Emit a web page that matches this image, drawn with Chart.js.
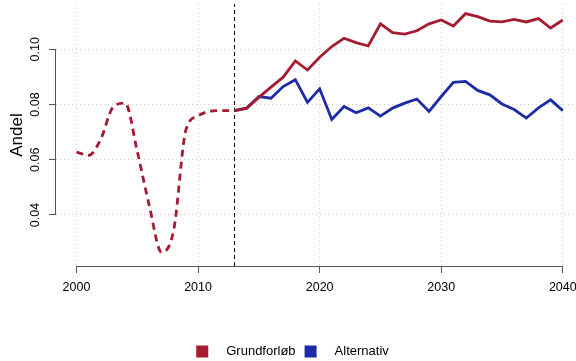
<!DOCTYPE html>
<html>
<head>
<meta charset="utf-8">
<script src="https://cdn.jsdelivr.net/npm/chart.js@4/dist/chart.umd.min.js"></script>
<style>
  html, body { margin: 0; padding: 0; background: #fff; }
  #wrap { width: 576px; height: 361px; position: relative; }
</style>
</head>
<body>
<div id="wrap"><canvas id="andelChart"></canvas></div>
<script>
// historic (dashed) part
var histYears = [2000, 2001, 2002, 2003, 2004, 2005, 2006, 2007, 2008, 2009, 2010, 2011, 2012, 2013];
var histValues = [0.0628, 0.0616, 0.0675, 0.0790, 0.0805, 0.0630, 0.0431, 0.0265, 0.0347, 0.0708, 0.0759, 0.0776, 0.0778, 0.0778];

// projections
var projYears = [2013, 2014, 2015, 2016, 2017, 2018, 2019, 2020, 2021, 2022, 2023, 2024, 2025, 2026,
  2027, 2028, 2029, 2030, 2031, 2032, 2033, 2034, 2035, 2036, 2037, 2038, 2039, 2040];
var baseValues = [0.0778, 0.0787, 0.0826, 0.0863, 0.0899, 0.0958, 0.0925, 0.0971, 0.1010, 0.1040, 0.1024, 0.1012, 0.1092, 0.1060,
  0.1055, 0.1067, 0.1092, 0.1106, 0.1084, 0.1129, 0.1118, 0.1102, 0.1099, 0.1108, 0.1099, 0.1111, 0.1077, 0.1106];
var altValues = [0.0778, 0.0787, 0.0829, 0.0823, 0.0865, 0.0890, 0.0808, 0.0857, 0.0746, 0.0793, 0.0770, 0.0788, 0.0758, 0.0787,
  0.0805, 0.0820, 0.0775, 0.0829, 0.0880, 0.0884, 0.0851, 0.0835, 0.0802, 0.0782, 0.0751, 0.0788, 0.0817, 0.0778];

var seriesNames = ['Grundforløb', 'Alternativ'];
var xTicks = [2000, 2010, 2020, 2030, 2040];
var yTicks = [0.04, 0.06, 0.08, 0.10];
var splitYear = 2013;

var RED = '#A51B2F';
var BLUE = '#1E2BA8';
var AXIS = '#555555';
var FONT = "'Liberation Sans', Arial, Helvetica, sans-serif";

var xMin = 1998.314, xMax = 2041.086;
var yMin = 0.02153, yMax = 0.1164;

function pts(xs, ys) {
  return xs.map(function (x, i) { return { x: x, y: ys[i] }; });
}

// R-like axis lines, only from first to last tick
var axisLines = {
  id: 'axisLines',
  afterDraw: function (chart) {
    var ctx = chart.ctx;
    var xs = chart.scales.x, ys = chart.scales.y;
    var area = chart.chartArea;
    ctx.save();
    ctx.strokeStyle = AXIS;
    ctx.lineWidth = 1;
    ctx.beginPath();
    var bx = Math.round(area.bottom) + 0.5;
    ctx.moveTo(xs.getPixelForValue(xTicks[0]), bx);
    ctx.lineTo(xs.getPixelForValue(xTicks[xTicks.length - 1]), bx);
    var lx = Math.round(area.left) - 0.5;
    ctx.moveTo(lx, ys.getPixelForValue(yTicks[0]));
    ctx.lineTo(lx, ys.getPixelForValue(yTicks[yTicks.length - 1]));
    ctx.stroke();
    ctx.restore();
  }
};

// legend row at the bottom
var bottomLegend = {
  id: 'bottomLegend',
  afterDraw: function (chart) {
    var ctx = chart.ctx;
    var colors = [RED, BLUE];
    var box = 12, gap = 18, itemGap = 9;
    ctx.save();
    ctx.font = '13px ' + FONT;
    ctx.textBaseline = 'middle';
    ctx.textAlign = 'left';
    var total = 0;
    seriesNames.forEach(function (n, i) {
      total += box + gap + ctx.measureText(n).width + (i ? itemGap : 0);
    });
    var x = 292.5 - total / 2;
    var cy = 351.5;
    seriesNames.forEach(function (n, i) {
      if (i) x += itemGap;
      ctx.fillStyle = colors[i];
      ctx.fillRect(x, cy - box / 2, box, box);
      x += box + gap;
      ctx.fillStyle = '#000';
      ctx.fillText(n, x, cy);
      x += ctx.measureText(n).width;
    });
    ctx.restore();
  }
};

var ctx = document.getElementById('andelChart').getContext('2d');
var chart = new Chart(ctx, {
  type: 'line',
  data: {
    datasets: [{
      label: seriesNames[0],
      data: pts(projYears, baseValues),
      borderColor: RED,
      borderWidth: 2.8,
      pointRadius: 0,
      tension: 0
    }, {
      label: seriesNames[1],
      data: pts(projYears, altValues),
      borderColor: BLUE,
      borderWidth: 2.8,
      pointRadius: 0,
      tension: 0
    }, {
      label: 'historic',
      data: pts(histYears, histValues),
      borderColor: RED,
      borderWidth: 2.8,
      borderDash: [7, 5],
      pointRadius: 0,
      cubicInterpolationMode: 'monotone'
    }, {
      label: 'split',
      data: [{ x: splitYear, y: yMin }, { x: splitYear, y: yMax }],
      borderColor: '#000',
      borderWidth: 1,
      borderDash: [4, 3],
      pointRadius: 0
    }]
  },
  options: {
    responsive: true,
    maintainAspectRatio: false,
    animation: false,
    layout: { padding: { top: 4, left: 0, right: 0, bottom: 0 } },
    plugins: {
      legend: { display: false },
      tooltip: { enabled: false }
    },
    scales: {
      x: {
        type: 'linear',
        min: xMin,
        max: xMax,
        afterBuildTicks: function (scale) {
          scale.ticks = xTicks.map(function (v) { return { value: v }; });
        },
        afterFit: function (scale) {
          scale.height = 95;
          scale.paddingLeft = 0;
          scale.paddingRight = 0;
        },
        border: { display: false, dash: [1, 3] },
        grid: {
          color: '#CFCFCF',
          lineWidth: 1,
          tickLength: 7,
          tickColor: AXIS,
          tickBorderDash: [],
          tickWidth: 1
        },
        ticks: {
          color: '#000',
          padding: 7,
          maxRotation: 0,
          font: { family: FONT, size: 12.5 },
          callback: function (v) { return String(v); }
        }
      },
      y: {
        type: 'linear',
        min: yMin,
        max: yMax,
        afterBuildTicks: function (scale) {
          scale.ticks = yTicks.map(function (v) { return { value: v }; });
        },
        afterFit: function (scale) {
          scale.width = 56;
          scale.paddingTop = 0;
          scale.paddingBottom = 0;
        },
        border: { display: false, dash: [1, 3] },
        grid: {
          color: '#CFCFCF',
          lineWidth: 1,
          tickLength: 7,
          tickColor: AXIS,
          tickBorderDash: [],
          tickWidth: 1
        },
        ticks: {
          color: '#000',
          padding: 1,
          minRotation: 90,
          maxRotation: 90,
          crossAlign: 'center',
          font: { family: FONT, size: 12.5 },
          callback: function (v) { return v.toFixed(2); }
        },
        title: {
          display: true,
          text: 'Andel',
          color: '#000',
          padding: { top: 7, bottom: 0 },
          font: { family: FONT, size: 17 }
        }
      }
    }
  },
  plugins: [axisLines, bottomLegend]
});
</script>
</body>
</html>
